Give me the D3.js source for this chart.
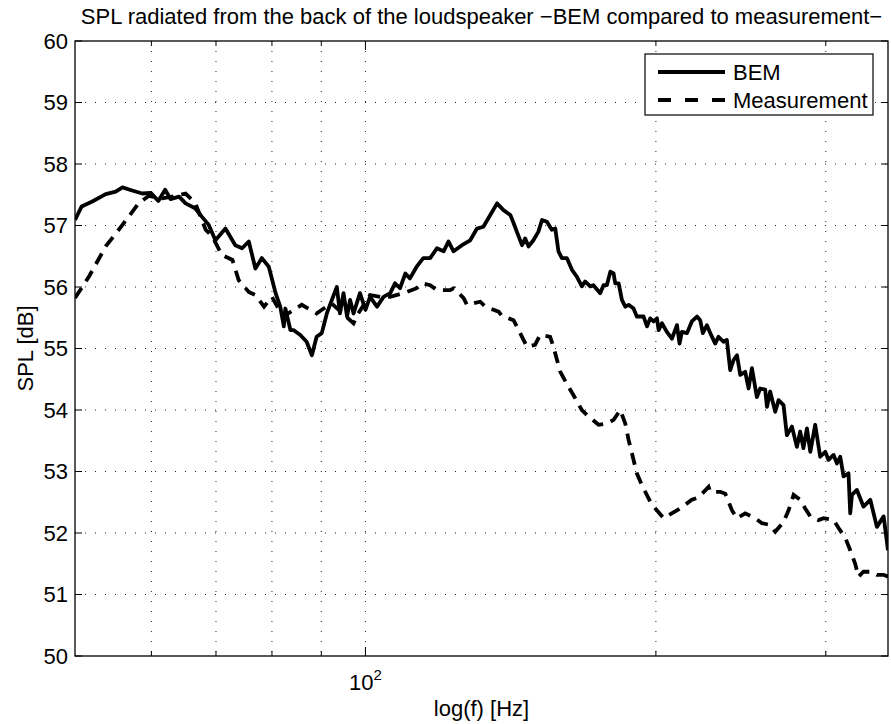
<!DOCTYPE html>
<html>
<head>
<meta charset="utf-8">
<script src="https://cdn.jsdelivr.net/npm/d3@7"></script>
<style>
  body{margin:0;background:#fff;}
  text{font-family:"Liberation Sans",Arial,Helvetica,sans-serif;fill:#000;}
</style>
</head>
<body>
<div class="plot"></div>
<script>
// BEM curve (frequency in Hz, SPL in dB)
var bemFreq = [50.0,50.8,52.1,53.8,55.1,56.0,57.3,58.7,59.9,61.0,62.0,62.8,64.1,65.1,66.6,67.7,68.8,69.9,71.6,73.3,
  74.5,75.7,76.9,78.1,79.4,80.7,81.6,82.3,82.6,83.6,84.2,85.6,86.9,88.0,89.0,90.1,91.2,92.3,93.4,94.1,
  94.9,95.7,96.4,97.2,98.7,100.0,101.1,102.8,104.4,106.1,107.3,108.6,110.0,111.2,113.0,114.8,116.7,118.6,120.5,121.9,
  123.4,125.9,128.4,130.5,132.5,134.7,136.9,139.0,141.3,142.4,143.5,145.3,146.4,147.6,149.3,151.1,152.4,154.2,156.0,157.3,
  158.5,159.8,161.7,163.7,165.6,167.6,168.9,171.0,172.3,175.1,176.5,177.9,179.4,180.8,181.5,183.0,184.4,185.9,187.4,189.6,
  191.1,194.2,195.8,197.3,198.9,200.5,201.3,202.9,205.3,207.8,210.3,211.6,212.8,215.4,217.9,220.6,222.3,223.7,225.9,227.7,
  230.4,232.2,235.0,236.9,238.8,240.7,242.7,244.6,247.5,249.5,251.5,254.5,256.5,259.6,260.7,262.7,265.9,268.0,271.2,273.4,
  276.7,280.0,282.2,284.4,286.8,289.1,292.5,296.0,299.6,301.9,305.6,308.1,310.5,313.0,316.7,318.0,319.3,323.1,328.2,333.6,
  338.9,344.4,348.0];
var bemSpl = [57.09,57.31,57.39,57.51,57.55,57.62,57.57,57.52,57.53,57.40,57.58,57.43,57.47,57.36,57.28,57.14,57.01,56.76,56.95,56.68,
  56.63,56.74,56.30,56.47,56.33,55.90,55.68,55.36,55.65,55.30,55.30,55.22,55.11,54.89,55.19,55.25,55.57,55.79,56.00,55.57,
  55.90,55.52,55.79,55.57,55.90,55.63,55.84,55.68,55.84,55.90,56.06,55.98,56.22,56.14,56.33,56.47,56.47,56.63,56.58,56.74,
  56.58,56.68,56.76,56.95,56.98,57.17,57.36,57.25,57.17,57.04,56.90,56.68,56.79,56.66,56.76,56.90,57.09,57.06,56.93,56.95,
  56.58,56.47,56.47,56.28,56.17,56.01,56.09,56.01,56.03,55.90,56.03,56.03,56.25,56.22,56.06,56.06,55.79,55.68,55.71,55.65,
  55.52,55.52,55.36,55.49,55.44,55.49,55.30,55.41,55.27,55.16,55.38,55.08,55.27,55.25,55.44,55.52,55.46,55.25,55.38,55.25,
  55.08,55.19,55.11,55.14,54.65,54.81,54.89,54.57,54.62,54.35,54.68,54.21,54.35,54.33,54.05,54.30,53.97,54.16,54.08,53.59,
  53.73,53.40,53.65,53.38,53.70,53.32,53.76,53.24,53.32,53.19,53.27,53.13,53.24,52.92,52.97,52.32,52.62,52.70,52.43,52.54,
  52.10,52.27,51.72];

// Measurement curve
var measFreq = [50.0,51.7,53.8,56.0,58.2,59.6,61.6,63.0,65.1,66.6,68.3,69.4,71.0,72.8,73.9,75.7,76.9,78.5,80.0,80.7,
  82.2,85.9,89.0,90.5,92.3,97.2,98.3,101.1,103.6,106.1,109.5,113.0,114.4,116.7,118.6,122.4,123.4,126.4,127.4,131.5,
  133.1,137.4,138.5,142.4,143.5,145.3,147.0,149.9,151.7,155.4,156.6,159.2,162.3,164.3,167.6,169.6,174.4,177.9,180.8,183.7,
  185.9,187.4,189.6,191.1,193.4,197.3,199.7,203.7,209.4,211.9,217.9,221.4,226.8,227.7,233.2,236.0,239.8,242.7,247.5,253.5,
  257.6,262.7,265.9,271.2,274.5,277.8,282.2,285.6,289.1,294.8,298.4,305.6,309.3,314.3,318.0,321.8,324.3,328.2,334.9,338.9,
  344.4,348.0];
var measSpl = [55.82,56.17,56.66,57.01,57.36,57.48,57.44,57.47,57.52,57.37,56.93,56.82,56.52,56.44,56.11,55.92,55.87,55.68,55.84,55.73,
  55.52,55.71,55.57,55.65,55.73,55.41,55.57,55.87,55.84,55.84,55.90,55.98,56.06,56.03,55.95,55.95,55.98,55.82,55.71,55.76,
  55.68,55.60,55.53,55.46,55.36,55.19,55.03,55.06,55.22,55.19,55.03,54.62,54.38,54.24,54.00,53.92,53.76,53.78,53.84,54.00,
  53.78,53.51,53.19,52.97,52.78,52.51,52.40,52.24,52.35,52.40,52.54,52.58,52.75,52.67,52.67,52.64,52.37,52.24,52.32,52.24,
  52.16,52.13,52.02,52.18,52.37,52.62,52.54,52.40,52.27,52.21,52.24,52.21,52.08,51.92,51.72,51.50,51.29,51.37,51.37,51.32,
  51.32,51.29];

// axis ticks / grid
var yTicks = [50,51,52,53,54,55,56,57,58,59,60];
var xGrid = [60,70,80,90,100,200,300];
var xLabelTicks = [100];
var xDomain = [50,348];
var legendNames = ['BEM','Measurement'];

var W = 891, H = 724;
var m = {t:41, r:3, b:68, l:75};
var w = W - m.l - m.r,
    h = H - m.t - m.b;

var svg = d3.select('.plot').append('svg')
    .attr('width',W).attr('height',H);

var scaleX = d3.scaleLog().domain(xDomain).range([0,w]);
var scaleY = d3.scaleLinear().domain([50,60]).range([h,0]);

var plot = svg.append('g').attr('transform','translate('+m.l+','+m.t+')');

plot.append('clipPath').attr('id','clip')
  .append('rect').attr('width',w).attr('height',h);

//Grid
plot.selectAll('.grid-x').data(xGrid).enter().append('line')
    .attr('class','grid-x')
    .attr('x1',function(d){return scaleX(d);}).attr('x2',function(d){return scaleX(d);})
    .attr('y1',0).attr('y2',h);
plot.selectAll('.grid-y').data(yTicks.slice(1,-1)).enter().append('line')
    .attr('class','grid-y')
    .attr('x1',0).attr('x2',w)
    .attr('y1',function(d){return scaleY(d);}).attr('y2',function(d){return scaleY(d);});
plot.selectAll('.grid-x,.grid-y')
    .style('stroke','#222').style('stroke-width',1).style('stroke-dasharray','1,9');

//Curves
var line = d3.line()
    .x(function(d){return scaleX(d[0]);})
    .y(function(d){return scaleY(d[1]);});

var bem = d3.zip(bemFreq,bemSpl),
    meas = d3.zip(measFreq,measSpl);

var curves = plot.append('g').attr('clip-path','url(#clip)');
curves.append('path').datum(meas)
    .attr('d',line)
    .style('fill','none').style('stroke','#000').style('stroke-width',3.8)
    .style('stroke-dasharray','12,8');
curves.append('path').datum(bem)
    .attr('d',line)
    .style('fill','none').style('stroke','#000').style('stroke-width',3.8)
    .style('stroke-linejoin','round');

//Box
plot.append('rect').attr('width',w).attr('height',h)
    .style('fill','none').style('stroke','#000').style('stroke-width',1.3);

//Ticks (inward, mirrored)
var ticks = plot.append('g').style('stroke','#000').style('stroke-width',1);
yTicks.forEach(function(d){
  ticks.append('line').attr('x1',0).attr('x2',7).attr('y1',scaleY(d)).attr('y2',scaleY(d));
  ticks.append('line').attr('x1',w).attr('x2',w-7).attr('y1',scaleY(d)).attr('y2',scaleY(d));
});
xGrid.forEach(function(d){
  var len = xLabelTicks.indexOf(d) >= 0 ? 9 : 5;
  ticks.append('line').attr('x1',scaleX(d)).attr('x2',scaleX(d)).attr('y1',h).attr('y2',h-len);
  ticks.append('line').attr('x1',scaleX(d)).attr('x2',scaleX(d)).attr('y1',0).attr('y2',len);
});

//Tick labels
plot.selectAll('.ylab').data(yTicks).enter().append('text')
    .attr('class','ylab')
    .attr('x',-7).attr('y',function(d){return scaleY(d);})
    .attr('dy','0.36em')
    .attr('text-anchor','end').style('font-size','22px')
    .text(function(d){return d;});

xLabelTicks.forEach(function(d){
  var t = plot.append('text')
      .attr('x',scaleX(d)).attr('y',h+34)
      .attr('text-anchor','middle').style('font-size','22px');
  t.append('tspan').text('10');
  t.append('tspan').attr('dy',-10).style('font-size','15px').text(Math.round(Math.log10(d)));
});

//Axis titles
svg.append('text')
    .attr('x',m.l + w/2).attr('y',24)
    .attr('text-anchor','middle').style('font-size','22px')
    .text('SPL radiated from the back of the loudspeaker \u2212BEM compared to measurement\u2212');
svg.append('text')
    .attr('x',m.l + w/2).attr('y',716)
    .attr('text-anchor','middle').style('font-size','22px')
    .text('log(f) [Hz]');
svg.append('text')
    .attr('transform','translate(33,'+(m.t + h/2)+') rotate(-90)')
    .attr('text-anchor','middle').style('font-size','22px')
    .text('SPL [dB]');

//Legend
var legend = svg.append('g').attr('transform','translate(645,54)');
legend.append('rect').attr('width',228).attr('height',61)
    .style('fill','#fff').style('stroke','#000').style('stroke-width',1.2);
var items = legend.selectAll('.item').data(legendNames).enter().append('g')
    .attr('class','item')
    .attr('transform',function(d,i){return 'translate(0,'+(18+i*28)+')';});
items.append('line')
    .attr('x1',13).attr('x2',80).attr('y1',0).attr('y2',0)
    .style('stroke','#000').style('stroke-width',4)
    .style('stroke-dasharray',function(d,i){return i ? '13,14' : null;});
items.append('text')
    .attr('x',88).attr('dy','0.36em').style('font-size','22px')
    .text(function(d){return d;});
</script>
</body>
</html>
